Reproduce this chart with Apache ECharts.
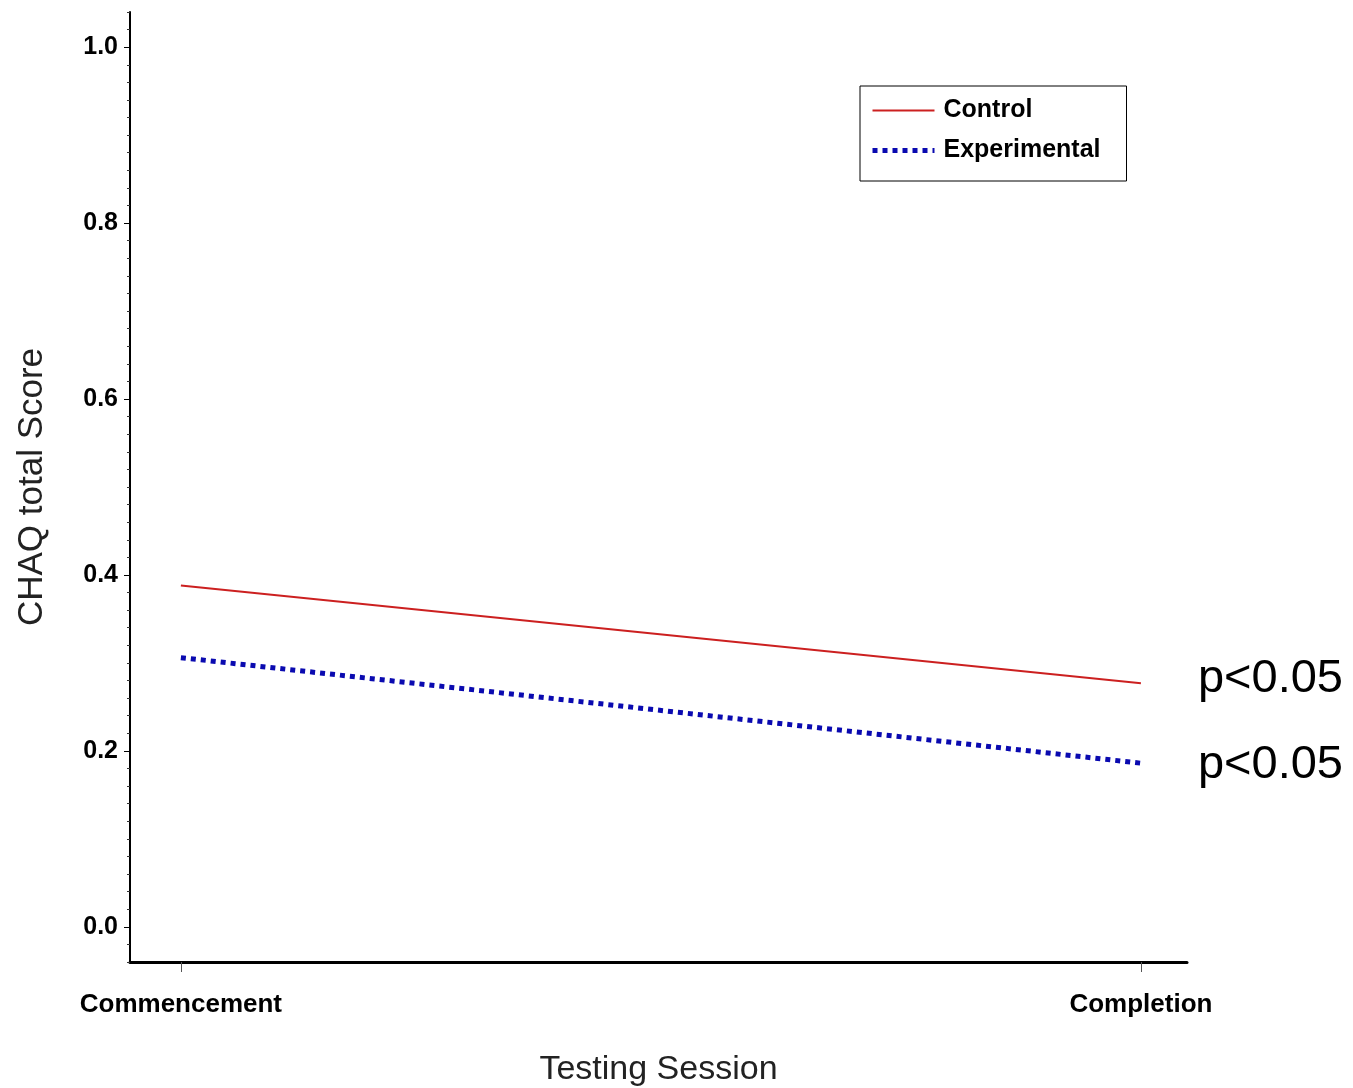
<!DOCTYPE html>
<html>
<head>
<meta charset="utf-8">
<script src="https://cdn.jsdelivr.net/npm/echarts@6/dist/echarts.min.js"></script>
<style>
  html, body { margin: 0; padding: 0; background: #fff; }
  #chart { width: 1353px; height: 1088px; }
</style>
</head>
<body>
<div id="chart"></div>
<script>
    // testing sessions
    var sessions = ['Commencement', 'Completion'];
    // CHAQ total score per group
    var controlValues = [0.388, 0.277];
    var experimentalValues = [0.306, 0.186];
    var pLabels = ['p<0.05', 'p<0.05'];
    // y axis ticks
    var majorTicks = [0.0, 0.2, 0.4, 0.6, 0.8, 1.0];
    var minorTicks = [];
    for (var i = -2; i <= 52; i++) {
        if (i % 10 !== 0) minorTicks.push(+(i * 0.02).toFixed(2));
    }

    function toPoints(vals) {
        return vals.map(function (v, k) { return [k, v]; });
    }

    var myChart = echarts.init(document.getElementById('chart'));
    var labelFont = 'Liberation Sans, Arial, sans-serif';
    var option = {
        backgroundColor: '#fff',
        animation: false,
        grid: { left: 130, right: 166, top: 12, bottom: 126, outerBoundsMode: 'none' },
        legend: {
            orient: 'vertical',
            left: 860,
            top: 86,
            padding: [12, 26, 18, 10],
            borderColor: '#000',
            borderWidth: 1,
            itemWidth: 62,
            itemHeight: 14,
            itemGap: 15,
            itemStyle: { opacity: 0 },
            textStyle: { fontFamily: labelFont, fontWeight: 'bold', fontSize: 25, color: '#000', padding: [0, 0, 0, 4] },
            data: [
                { name: 'Control', lineStyle: { color: '#cc2020', width: 2, type: 'solid' } },
                { name: 'Experimental', lineStyle: { color: '#0a0ab0', width: 5, type: [5, 5] } }
            ]
        },
        xAxis: {
            type: 'value',
            min: -0.053,
            max: 1.048,
            splitLine: { show: false },
            axisLine: { onZero: false, lineStyle: { color: '#000', width: 3 } },
            axisTick: { show: true, customValues: [0, 1], length: 10, lineStyle: { color: '#555', width: 1 } },
            axisLabel: {
                customValues: [0, 1],
                margin: 30,
                fontFamily: labelFont, fontWeight: 'bold', fontSize: 26, color: '#000',
                formatter: function (v) { return sessions[Math.round(v)]; }
            },
            name: 'Testing Session',
            nameLocation: 'middle',
            nameGap: 91,
            nameTextStyle: { fontFamily: labelFont, fontSize: 34, color: '#222' }
        },
        yAxis: [
            {
                type: 'value',
                min: -0.04,
                max: 1.04,
                splitLine: { show: false },
                axisLine: { show: true, onZero: false, lineStyle: { color: '#000', width: 2 } },
                axisTick: { show: true, customValues: majorTicks, length: 6, lineStyle: { color: '#000', width: 1 } },
                axisLabel: {
                    customValues: majorTicks,
                    margin: 12,
                    fontFamily: labelFont, fontWeight: 'bold', fontSize: 25, color: '#000',
                    formatter: function (v) { return v.toFixed(1); }
                },
                name: 'CHAQ total Score',
                nameLocation: 'middle',
                nameRotate: 90,
                nameGap: 80,
                nameTextStyle: { fontFamily: labelFont, fontSize: 35, color: '#222' }
            },
            {
                type: 'value',
                min: -0.04,
                max: 1.04,
                position: 'left',
                splitLine: { show: false },
                axisLine: { show: false, onZero: false },
                axisTick: { show: true, customValues: minorTicks, length: 3, lineStyle: { color: '#333', width: 1 } },
                axisLabel: { show: false }
            }
        ],
        series: [
            {
                name: 'Control',
                type: 'line',
                symbol: 'none',
                data: toPoints(controlValues),
                lineStyle: { color: '#cc2020', width: 2 },
                itemStyle: { color: '#cc2020' },
                endLabel: {
                    show: true,
                    formatter: pLabels[0],
                    distance: 57,
                    offset: [0, -4],
                    fontFamily: labelFont, fontSize: 47, color: '#000'
                }
            },
            {
                name: 'Experimental',
                type: 'line',
                symbol: 'none',
                data: toPoints(experimentalValues),
                lineStyle: { color: '#0a0ab0', width: 5, type: [5, 5] },
                itemStyle: { color: '#0a0ab0' },
                endLabel: {
                    show: true,
                    formatter: pLabels[1],
                    distance: 57,
                    offset: [0, 2],
                    fontFamily: labelFont, fontSize: 47, color: '#000'
                }
            }
        ]
    };
    myChart.setOption(option);
</script>
</body>
</html>
